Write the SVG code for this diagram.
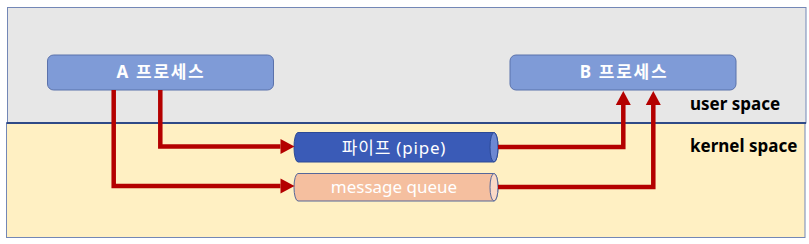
<svg xmlns="http://www.w3.org/2000/svg" width="809" height="244" viewBox="0 0 809 244">
<style>
text{font-family:"Noto Sans","Noto Sans CJK KR",sans-serif}
.proc{fill:#7f9bd7;stroke:#5b72ab;stroke-width:1}
.ptxt{fill:#fff;font-weight:bold;font-size:17px;text-anchor:middle;letter-spacing:1.7px}
.ctxt{fill:#fff;font-size:17px;text-anchor:middle}
.lbl{fill:#000;font-weight:bold;font-size:17px}
.flow{fill:none;stroke:#b40000;stroke-width:4.5}
</style>
<defs>
<marker id="ah" markerUnits="userSpaceOnUse" markerWidth="15" markerHeight="16" refX="0" refY="7.5" orient="auto" overflow="visible">
<path d="M0,0 L14,7.5 L0,15 Z" fill="#b40000"/>
</marker>
</defs>
<g id="user-space">
<rect x="7.5" y="7.5" width="798.5" height="115.5" fill="#e7e7e7" stroke="#7387b6" stroke-width="1"/>
<text class="lbl" x="690" y="110">user space</text>
</g>
<g id="kernel-space">
<rect x="6.5" y="123" width="798.5" height="114.5" fill="#fff0c3" stroke="#7387b6" stroke-width="1"/>
<line x1="6.5" y1="123" x2="806" y2="123" stroke="#2f4a87" stroke-width="1.8"/>
<text class="lbl" x="690" y="152">kernel space</text>
</g>
<g id="proc-a">
<rect class="proc" x="47.5" y="55" width="226" height="35" rx="6"/>
<text class="ptxt" x="161" y="78">A 프로세스</text>
</g>
<g id="proc-b">
<rect class="proc" x="510" y="55" width="226" height="35" rx="6"/>
<text class="ptxt" x="624" y="78">B 프로세스</text>
</g>
<g id="pipe">
<path d="M298,132.5 H494 A4,14.75 0 0 1 494,162 H298 A4,14.75 0 0 1 298,132.5 Z" fill="#3a5bb7" stroke="#2c4a96" stroke-width="1"/>
<ellipse cx="494" cy="147.25" rx="4" ry="14.75" fill="#6d88d2" stroke="#2c4a96" stroke-width="1"/>
<text class="ctxt" x="394" y="153.5" letter-spacing="0.8">파이프 (pipe)</text>
</g>
<g id="message-queue">
<path d="M298,173.5 H494 A4,13.75 0 0 1 494,201 H298 A4,13.75 0 0 1 298,173.5 Z" fill="#f5bf9f" stroke="#55679a" stroke-width="1"/>
<ellipse cx="494" cy="187.25" rx="4" ry="13.75" fill="#fad9c6" stroke="#55679a" stroke-width="1"/>
<text class="ctxt" x="394" y="193">message queue</text>
</g>
<g id="connectors">
<path class="flow" d="M160.3,90 V146.5 H280.5" marker-end="url(#ah)"/>
<path class="flow" d="M113.7,90 V186 H280.5" marker-end="url(#ah)"/>
<path class="flow" d="M498,147 H623.3 V105" marker-end="url(#ah)"/>
<path class="flow" d="M498,187 H653.3 V105" marker-end="url(#ah)"/>
</g>
</svg>
